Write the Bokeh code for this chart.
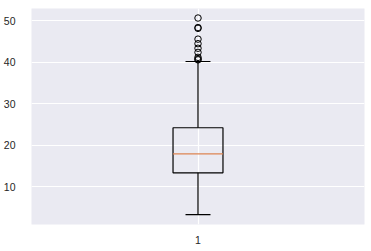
from bokeh.plotting import figure
from bokeh.models import Range1d, FixedTicker
from bokeh.embed import file_html
from bokeh.resources import INLINE

# Box statistics
positions = [1]
whisker_low = [3.2]
q1 = [13.3]
median = [17.9]
q3 = [24.2]
whisker_high = [40.2]
outliers = [50.7, 48.2, 48.4, 45.6, 44.5, 43.4, 42.4, 41.2, 40.6, 40.8]
y_ticks = [10, 20, 30, 40, 50]
x_ticks = [1]
x_tick_labels = ["1"]

box_w = 0.15
cap_w = box_w / 2

p = figure(width=371, height=251, output_backend="svg", toolbar_location=None,
           x_range=Range1d(0.5, 1.5), y_range=Range1d(0.83, 53.0),
           min_border_left=30, min_border_right=7, min_border_top=8, min_border_bottom=27)

p.background_fill_color = "#EAEAF2"
p.border_fill_color = "white"
p.outline_line_color = None

for ax in (p.xaxis, p.yaxis):
    ax.axis_line_color = None
    ax.major_tick_line_color = None
    ax.minor_tick_line_color = None
    ax.major_label_text_font = "Liberation Sans"
    ax.major_label_text_font_size = "10.5px"
    ax.major_label_text_color = "#262626"

p.yaxis.ticker = FixedTicker(ticks=y_ticks)
p.xaxis.ticker = FixedTicker(ticks=x_ticks)
p.xaxis.major_label_overrides = {t: l for t, l in zip(x_ticks, x_tick_labels)}
p.yaxis.major_label_standoff = 10
p.xaxis.major_label_standoff = 5

p.xgrid.ticker = FixedTicker(ticks=x_ticks)
p.ygrid.ticker = FixedTicker(ticks=y_ticks)
for g in (p.xgrid, p.ygrid):
    g.grid_line_color = "white"
    g.grid_line_width = 1.2

left = [x - box_w / 2 for x in positions]
right = [x + box_w / 2 for x in positions]

# whiskers
p.segment(x0=positions, y0=q3, x1=positions, y1=whisker_high, line_color="black", line_width=1.2)
p.segment(x0=positions, y0=q1, x1=positions, y1=whisker_low, line_color="black", line_width=1.2)
# caps
p.segment(x0=[x - cap_w / 2 for x in positions], y0=whisker_high,
          x1=[x + cap_w / 2 for x in positions], y1=whisker_high, line_color="black", line_width=1.2)
p.segment(x0=[x - cap_w / 2 for x in positions], y0=whisker_low,
          x1=[x + cap_w / 2 for x in positions], y1=whisker_low, line_color="black", line_width=1.2)
# box
p.quad(left=left, right=right, bottom=q1, top=q3, fill_color=None,
       line_color="black", line_width=1.2)
# median
p.segment(x0=left, y0=median, x1=right, y1=median, line_color="#DD8452", line_width=1.2)
# fliers
p.scatter(x=[positions[0]] * len(outliers), y=outliers, size=6.5, marker="circle",
          fill_color=None, line_color="black", line_width=1)

open("out.html", "w").write(file_html(p, INLINE))
